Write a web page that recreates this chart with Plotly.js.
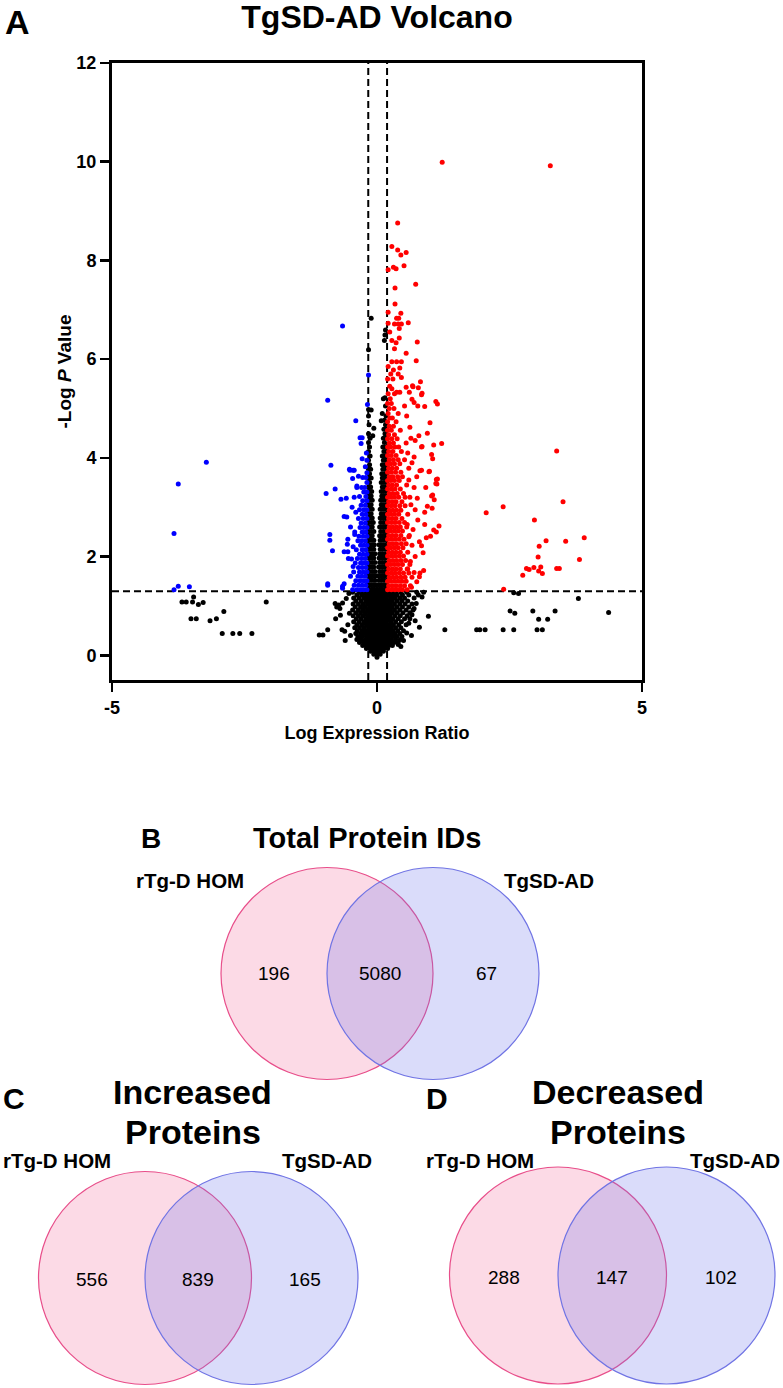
<!DOCTYPE html>
<html>
<head>
<meta charset="utf-8">
<script src="https://cdn.plot.ly/plotly-3.0.1.min.js"></script>
<style>
  html, body { margin: 0; padding: 0; background: #ffffff; }
  #chart { width: 783px; height: 1388px; }
</style>
</head>
<body>
<div id="chart"></div>
<script>
// ---------- Volcano data: log expression ratio (x) vs -log P (y) ----------

// significance cut-offs
const ratioCutoffs = [-0.165, 0.19];
const pCutoff = 1.3;

// axis ticks
const xTickVals = [-5, 0, 5];
const xTickText = ['-5', '0', '5'];
const yTickVals = [0, 2, 4, 6, 8, 10, 12];

// increased proteins, dense band next to the cut-off: [y, [x values]]
const upRows = [
  [1.33, [0.20, 0.27, 0.34, 0.41, 0.48, 0.57]],
  [1.41, [0.22, 0.29, 0.36, 0.44, 0.52, 0.63]],
  [1.50, [0.20, 0.26, 0.33, 0.40, 0.47, 0.55]],
  [1.58, [0.23, 0.30, 0.37, 0.45, 0.53, 0.66]],
  [1.67, [0.20, 0.27, 0.34, 0.42, 0.50, 0.60]],
  [1.75, [0.22, 0.29, 0.36, 0.44, 0.57]],
  [1.84, [0.20, 0.26, 0.33, 0.40, 0.48, 0.62]],
  [1.92, [0.23, 0.30, 0.37, 0.45, 0.54]],
  [2.01, [0.20, 0.27, 0.34, 0.42, 0.50]],
  [2.09, [0.22, 0.29, 0.36, 0.44, 0.58]],
  [2.18, [0.20, 0.26, 0.33, 0.40, 0.49]],
  [2.26, [0.23, 0.30, 0.37, 0.46, 0.55]],
  [2.35, [0.20, 0.27, 0.34, 0.42, 0.51]],
  [2.43, [0.22, 0.29, 0.36, 0.45, 0.61]],
  [2.52, [0.20, 0.26, 0.33, 0.40, 0.48]],
  [2.60, [0.23, 0.30, 0.37, 0.44, 0.56]],
  [2.69, [0.20, 0.27, 0.34, 0.42, 0.52]],
  [2.77, [0.22, 0.29, 0.36, 0.47]],
  [2.86, [0.20, 0.26, 0.33, 0.41, 0.58]],
  [2.94, [0.23, 0.30, 0.37, 0.45]],
  [3.03, [0.20, 0.27, 0.34, 0.43, 0.53]],
  [3.11, [0.22, 0.29, 0.36, 0.47]],
  [3.20, [0.20, 0.26, 0.33, 0.41, 0.62]],
  [3.28, [0.23, 0.30, 0.38, 0.50]],
  [3.37, [0.20, 0.27, 0.34, 0.44]],
  [3.45, [0.22, 0.29, 0.37, 0.56]],
  [3.54, [0.20, 0.26, 0.33, 0.42]],
  [3.62, [0.23, 0.30, 0.39, 0.48]],
  [3.71, [0.20, 0.27, 0.35, 0.45]],
  [3.79, [0.22, 0.29, 0.37, 0.60]],
  [3.88, [0.20, 0.26, 0.33, 0.43]],
  [3.96, [0.23, 0.31, 0.40, 0.52]],
  [4.05, [0.20, 0.27, 0.36]],
  [4.13, [0.22, 0.30, 0.46]],
  [4.22, [0.20, 0.26, 0.34, 0.41]],
  [4.30, [0.23, 0.31, 0.55]],
  [4.39, [0.20, 0.28, 0.38]],
  [4.47, [0.22, 0.33]],
  [4.56, [0.20, 0.27, 0.44]],
  [4.64, [0.23, 0.31]],
  [4.73, [0.20, 0.36]],
  [4.81, [0.24, 0.29]],
  [4.90, [0.21, 0.40]],
  [5.00, [0.23, 0.32]],
  [5.10, [0.20, 0.27]],
  [5.20, [0.25]],
  [5.30, [0.21, 0.33]],
  [5.45, [0.24]],
  [5.60, [0.20, 0.30]]
];

// increased proteins, scattered points: [x, y]
const upPoints = [
  [1.23, 9.99], [3.27, 9.92], [0.39, 8.76], [0.28, 8.28], [0.39, 8.21], [0.45, 8.11],
  [0.55, 8.16], [0.31, 7.86], [0.36, 7.83], [0.51, 7.89], [0.21, 7.81], [0.73, 7.52],
  [0.34, 7.44], [0.34, 7.12], [0.21, 6.95], [0.45, 6.93], [0.37, 6.83], [0.41, 6.83],
  [0.21, 6.73], [0.33, 6.71], [0.40, 6.71], [0.46, 6.71], [0.59, 6.74], [0.24, 6.55],
  [0.42, 6.62], [0.36, 6.33], [0.42, 6.43], [0.28, 6.38], [0.76, 6.35], [0.33, 6.21],
  [0.55, 6.12], [0.74, 5.97], [0.28, 5.95], [0.37, 5.95], [0.46, 5.95], [0.21, 5.85],
  [0.31, 5.78], [0.43, 5.82], [0.26, 5.70], [0.40, 5.70], [0.46, 5.63], [0.67, 5.46],
  [0.82, 5.54], [0.78, 5.42], [0.85, 5.31], [0.37, 5.33], [0.43, 5.33], [0.28, 5.40],
  [0.55, 5.43], [0.61, 5.33], [1.11, 5.14], [1.14, 5.09], [0.77, 5.05], [0.66, 5.19],
  [0.70, 5.12], [0.90, 5.04], [0.84, 5.28], [0.68, 5.44], [1.00, 4.71], [1.22, 4.29],
  [1.07, 4.26], [0.85, 4.23], [0.79, 4.45], [0.72, 4.35], [1.03, 4.07], [1.05, 3.98],
  [0.99, 3.73], [1.14, 3.57], [1.11, 3.48], [0.81, 3.74], [1.03, 3.23], [0.84, 4.22],
  [0.70, 4.02], [0.84, 3.75], [0.98, 3.72], [1.12, 3.56], [1.13, 3.47], [1.05, 3.25],
  [1.08, 3.15], [1.04, 2.98], [0.95, 3.02], [0.90, 2.90], [0.76, 3.18], [1.17, 2.62],
  [1.07, 2.54], [1.12, 2.50], [1.01, 2.41], [0.93, 2.38], [0.90, 2.65], [0.77, 2.74],
  [0.80, 2.30], [0.84, 2.22], [0.66, 2.23], [0.87, 2.08], [0.88, 1.72], [0.81, 1.67],
  [0.80, 1.59], [0.70, 1.68], [0.75, 1.49], [0.65, 1.38], [0.62, 4.62], [0.58, 4.10],
  [0.66, 3.90], [0.60, 3.55], [0.70, 3.40], [0.64, 3.05], [0.72, 2.95], [0.68, 2.55],
  [0.60, 2.40], [0.72, 2.00], [0.63, 1.90], [0.58, 1.75], [0.56, 4.85], [0.52, 5.05],
  [0.64, 4.40], [0.53, 3.20], [0.57, 2.65], [0.75, 3.62], [0.92, 3.40], [0.95, 4.50],
  [2.06, 2.89], [2.38, 3.01], [2.39, 1.34], [2.75, 1.62], [2.82, 1.76], [2.87, 1.74],
  [2.96, 1.78], [3.09, 1.79], [3.05, 1.71], [3.12, 1.66], [3.19, 2.32], [2.97, 2.74],
  [3.06, 2.21], [3.04, 1.99], [3.39, 4.14], [3.51, 3.11], [3.56, 2.31], [3.39, 1.76],
  [3.44, 1.76], [3.82, 1.94], [3.91, 2.38]
];

// decreased proteins, dense band next to the cut-off: [y, [x values]]
const downRows = [
  [1.33, [-0.19, -0.25, -0.31, -0.38, -0.46]],
  [1.42, [-0.21, -0.28, -0.35, -0.43]],
  [1.51, [-0.19, -0.25, -0.32, -0.40]],
  [1.60, [-0.22, -0.29, -0.36]],
  [1.69, [-0.19, -0.26, -0.33, -0.44]],
  [1.78, [-0.21, -0.28, -0.35]],
  [1.87, [-0.19, -0.25, -0.31, -0.41]],
  [1.96, [-0.22, -0.29, -0.37]],
  [2.05, [-0.19, -0.26, -0.33]],
  [2.14, [-0.21, -0.28, -0.39]],
  [2.23, [-0.19, -0.25, -0.31]],
  [2.32, [-0.22, -0.29, -0.36]],
  [2.41, [-0.19, -0.26, -0.34]],
  [2.50, [-0.21, -0.28, -0.42]],
  [2.59, [-0.19, -0.25, -0.32]],
  [2.68, [-0.22, -0.30]],
  [2.77, [-0.19, -0.26, -0.35]],
  [2.86, [-0.21, -0.28]],
  [2.95, [-0.19, -0.25, -0.33]],
  [3.04, [-0.22, -0.30]],
  [3.13, [-0.19, -0.27]],
  [3.22, [-0.21, -0.33]],
  [3.31, [-0.19, -0.25]],
  [3.40, [-0.23, -0.29]],
  [3.50, [-0.19]],
  [3.60, [-0.21, -0.27]],
  [3.70, [-0.19]],
  [3.82, [-0.22]],
  [3.95, [-0.19]],
  [4.10, [-0.20]]
];

// decreased proteins, scattered points: [x, y]
const downPoints = [
  [-3.22, 3.91], [-3.75, 3.47], [-3.83, 2.47], [-3.83, 1.33], [-3.75, 1.40], [-3.54, 1.39],
  [-0.65, 6.67], [-0.93, 5.17], [-0.16, 5.68], [-0.18, 5.08], [-0.40, 4.75], [-0.32, 4.41],
  [-0.28, 4.41], [-0.30, 4.29], [-0.87, 3.85], [-0.51, 3.75], [-0.45, 3.75], [-0.46, 3.58],
  [-0.35, 3.63], [-0.96, 3.28], [-0.79, 3.37], [-0.38, 3.40], [-0.28, 3.98], [-0.68, 3.16],
  [-0.58, 3.18], [-0.52, 3.77], [-0.43, 3.75], [-0.62, 2.81], [-0.57, 2.80], [-0.55, 2.35],
  [-0.56, 2.25], [-0.62, 2.10], [-0.55, 2.10], [-0.54, 1.96], [-0.48, 1.95], [-0.62, 1.45],
  [-0.89, 2.45], [-0.89, 2.33], [-0.84, 2.12], [-0.93, 1.45], [-0.93, 1.42], [-0.65, 1.40],
  [-0.65, 1.36], [-0.38, 3.43], [-0.43, 3.20], [-0.47, 3.00], [-0.50, 2.60], [-0.45, 2.20],
  [-0.50, 1.60], [-0.45, 1.80], [-0.40, 2.90], [-0.42, 2.45]
];

// unchanged proteins, dense core below the P cut-off: [y, [x values]]
const nsCoreRows = [
  [-0.04, [0.00]],
  [0.02, [-0.06, 0.00, 0.06]],
  [0.08, [-0.12, -0.06, 0.00, 0.06, 0.12]],
  [0.14, [-0.20, -0.13, -0.07, 0.00, 0.07, 0.13, 0.20]],
  [0.20, [-0.27, -0.20, -0.13, -0.06, 0.01, 0.08, 0.15, 0.22, 0.29]],
  [0.26, [-0.33, -0.25, -0.18, -0.11, -0.04, 0.03, 0.10, 0.17, 0.24, 0.32, 0.40]],
  [0.32, [-0.38, -0.30, -0.22, -0.15, -0.08, -0.01, 0.06, 0.13, 0.20, 0.27, 0.35, 0.44]],
  [0.38, [-0.36, -0.28, -0.20, -0.13, -0.06, 0.01, 0.08, 0.15, 0.22, 0.30, 0.38, 0.47]],
  [0.44, [-0.40, -0.31, -0.23, -0.16, -0.09, -0.02, 0.05, 0.12, 0.19, 0.26, 0.34, 0.43]],
  [0.50, [-0.37, -0.28, -0.20, -0.13, -0.06, 0.01, 0.08, 0.15, 0.22, 0.30, 0.39, 0.50]],
  [0.56, [-0.42, -0.33, -0.24, -0.16, -0.09, -0.02, 0.05, 0.12, 0.19, 0.27, 0.35, 0.45]],
  [0.62, [-0.38, -0.29, -0.20, -0.13, -0.06, 0.01, 0.08, 0.15, 0.23, 0.31, 0.41, 0.55]],
  [0.68, [-0.44, -0.34, -0.25, -0.17, -0.10, -0.03, 0.04, 0.11, 0.18, 0.26, 0.35, 0.46]],
  [0.74, [-0.39, -0.30, -0.21, -0.14, -0.07, 0.00, 0.07, 0.14, 0.22, 0.30, 0.40, 0.52, 0.62]],
  [0.80, [-0.45, -0.35, -0.26, -0.18, -0.11, -0.04, 0.03, 0.10, 0.17, 0.25, 0.34, 0.44, 0.57]],
  [0.86, [-0.40, -0.31, -0.22, -0.14, -0.07, 0.00, 0.07, 0.14, 0.21, 0.29, 0.38, 0.49]],
  [0.92, [-0.46, -0.35, -0.26, -0.18, -0.11, -0.04, 0.03, 0.10, 0.17, 0.25, 0.33, 0.43, 0.55, 0.68]],
  [0.98, [-0.41, -0.31, -0.22, -0.14, -0.07, 0.00, 0.07, 0.14, 0.21, 0.29, 0.38, 0.48, 0.60]],
  [1.04, [-0.45, -0.35, -0.26, -0.18, -0.11, -0.04, 0.03, 0.10, 0.17, 0.25, 0.33, 0.43, 0.53, 0.66]],
  [1.10, [-0.40, -0.30, -0.21, -0.14, -0.07, 0.00, 0.07, 0.14, 0.21, 0.29, 0.38, 0.47, 0.58]],
  [1.16, [-0.44, -0.34, -0.25, -0.17, -0.10, -0.03, 0.04, 0.11, 0.18, 0.26, 0.34, 0.43, 0.52, 0.70]],
  [1.22, [-0.38, -0.29, -0.20, -0.13, -0.06, 0.01, 0.08, 0.15, 0.22, 0.30, 0.38, 0.48, 0.60]],
  [1.28, [-0.46, -0.33, -0.24, -0.16, -0.09, -0.02, 0.05, 0.12, 0.19, 0.27, 0.35, 0.45, 0.56, 0.75]]
];

// unchanged proteins between the ratio cut-offs: [y, [x values]]
const nsStripRows = [
  [1.34, [-0.15, -0.10, -0.05, 0.00, 0.05, 0.10, 0.15]],
  [1.43, [-0.16, -0.11, -0.06, -0.02, 0.03, 0.08, 0.13, 0.18]],
  [1.52, [-0.14, -0.09, -0.04, 0.04, 0.09, 0.14]],
  [1.61, [-0.16, -0.11, -0.06, -0.02, 0.03, 0.08, 0.13, 0.18]],
  [1.70, [-0.14, -0.09, -0.04, 0.05, 0.10, 0.15]],
  [1.79, [-0.16, -0.11, -0.06, 0.03, 0.08, 0.13, 0.18]],
  [1.88, [-0.14, -0.09, -0.04, 0.05, 0.10, 0.15]],
  [1.97, [-0.16, -0.11, -0.06, 0.04, 0.08, 0.13, 0.18]],
  [2.06, [-0.14, -0.09, -0.04, 0.05, 0.10, 0.15]],
  [2.15, [-0.16, -0.11, -0.06, 0.06, 0.11, 0.17]],
  [2.24, [-0.14, -0.09, -0.05, 0.04, 0.08, 0.13, 0.18]],
  [2.33, [-0.16, -0.11, -0.06, 0.06, 0.11, 0.16]],
  [2.42, [-0.14, -0.09, 0.05, 0.09, 0.14, 0.18]],
  [2.51, [-0.16, -0.11, -0.06, 0.07, 0.12, 0.17]],
  [2.60, [-0.14, -0.09, 0.05, 0.10, 0.15]],
  [2.69, [-0.16, -0.11, -0.07, 0.07, 0.12, 0.17]],
  [2.78, [-0.14, -0.09, 0.06, 0.10, 0.15]],
  [2.87, [-0.16, -0.11, 0.08, 0.13, 0.18]],
  [2.96, [-0.14, -0.09, 0.06, 0.11, 0.16]],
  [3.05, [-0.16, -0.11, 0.08, 0.13, 0.18]],
  [3.14, [-0.14, -0.09, 0.07, 0.11, 0.16]],
  [3.23, [-0.16, -0.11, 0.09, 0.14, 0.18]],
  [3.32, [-0.14, -0.10, 0.08, 0.12, 0.17]],
  [3.41, [-0.16, -0.12, 0.10, 0.15]],
  [3.50, [-0.14, 0.08, 0.13, 0.18]],
  [3.59, [-0.16, -0.11, 0.10, 0.15]],
  [3.68, [-0.14, 0.09, 0.14, 0.18]],
  [3.77, [-0.16, -0.12, 0.11, 0.16]],
  [3.86, [-0.14, 0.10, 0.15]],
  [3.95, [-0.16, 0.12, 0.17]],
  [4.04, [-0.13, 0.10, 0.15]],
  [4.13, [-0.16, 0.13, 0.18]],
  [4.22, [-0.14, 0.11, 0.16]],
  [4.31, [-0.16, 0.14]],
  [4.40, [-0.13, 0.12, 0.17]],
  [4.49, [-0.16, 0.15]],
  [4.58, [0.13, 0.18]],
  [4.67, [-0.15, 0.16]],
  [4.76, [0.14]],
  [4.85, [-0.16, 0.17]]
];

// unchanged proteins, scattered points: [x, y]
const nsPoints = [
  [-3.68, 1.08], [-3.60, 1.08], [-3.48, 1.08], [-3.46, 1.18], [-3.37, 1.03], [-3.28, 1.07],
  [-3.51, 0.74], [-3.41, 0.74], [-3.15, 0.70], [-3.03, 0.74], [-2.89, 0.89], [-2.92, 0.44],
  [-2.72, 0.44], [-2.59, 0.44], [-2.36, 0.44], [-2.09, 1.08],
  [-1.09, 0.41], [-1.02, 0.41], [-0.93, 0.52], [-0.79, 1.05], [-0.72, 1.02], [-0.65, 1.06],
  [-0.76, 0.98], [-0.70, 0.95], [-0.78, 0.74], [-0.69, 0.81], [-0.66, 0.52], [-0.61, 0.49],
  [-0.55, 0.62], [-0.52, 0.85], [-0.58, 1.15], [-0.53, 1.25], [-0.60, 0.30], [-0.50, 0.40],
  [0.88, 1.28], [0.85, 1.18], [0.78, 1.22], [0.74, 1.05], [0.70, 0.95], [0.66, 0.82],
  [0.62, 0.86], [0.72, 0.70], [0.60, 0.65], [0.56, 0.45], [0.50, 0.30], [0.97, 0.79],
  [0.80, 0.57], [1.28, 0.52], [0.65, 0.40], [0.45, 0.18], [0.40, 0.22],
  [2.58, 1.27], [2.67, 1.25], [2.51, 0.90], [2.60, 0.85], [2.94, 0.90], [3.05, 0.73],
  [3.22, 0.73], [3.36, 0.90], [3.80, 1.15], [4.37, 0.87], [1.88, 0.52], [1.94, 0.52],
  [2.04, 0.52], [2.38, 0.52], [2.58, 0.52], [3.02, 0.52], [3.12, 0.52],
  [-0.11, 6.83], [-0.16, 6.19], [0.15, 6.49], [0.16, 6.59], [0.14, 6.38], [0.12, 5.20],
  [0.15, 5.22], [-0.11, 4.97], [-0.16, 4.98], [-0.06, 4.60], [0.16, 5.05], [0.10, 4.90],
  [-0.08, 4.45], [0.08, 4.75]
];

// ---------- Venn data ----------
const vennSetNames = ['rTg-D HOM', 'TgSD-AD'];
const vennTitles = [['Total Protein IDs'], ['Increased', 'Proteins'], ['Decreased', 'Proteins']];
// [only rTg-D HOM, shared, only TgSD-AD]
const vennCounts = [[196, 5080, 67], [556, 839, 165], [288, 147, 102]];
const panelLetters = ['A', 'B', 'C', 'D'];

// ---------- helpers ----------
const W = 783, H = 1388;
const FONT = 'Liberation Sans, Arial, Helvetica, sans-serif';
const px = x => x / W;           // pixel column -> paper x
const py = y => 1 - y / H;       // pixel row -> paper y

function collect(rows, points) {
  const xs = [], ys = [];
  rows.forEach(([y, row]) => row.forEach(x => { xs.push(x); ys.push(y); }));
  points.forEach(([x, y]) => { xs.push(x); ys.push(y); });
  return { x: xs, y: ys };
}

const ns = collect(nsCoreRows.concat(nsStripRows), nsPoints);
const up = collect(upRows, upPoints);
const down = collect(downRows, downPoints);

function markerTrace(d, color) {
  return {
    type: 'scatter', mode: 'markers', x: d.x, y: d.y,
    marker: { color: color, size: 5, line: { width: 0 } },
    hoverinfo: 'skip', showlegend: false, cliponaxis: false
  };
}

const traces = [
  markerTrace(ns, '#000000'),
  markerTrace(down, '#0000ff'),
  markerTrace(up, '#ff0000')
];

// ---------- shapes ----------
const shapes = [];
ratioCutoffs.forEach(c => shapes.push({
  type: 'line', xref: 'x', yref: 'y', x0: c, x1: c, y0: -0.5, y1: 12,
  line: { color: '#000', width: 2, dash: '7px,4px' }, layer: 'below'
}));
shapes.push({
  type: 'line', xref: 'x', yref: 'y', x0: -5, x1: 5, y0: pCutoff, y1: pCutoff,
  line: { color: '#000', width: 2, dash: '7px,4px' }, layer: 'below'
});

// Venn panel placement (pixel geometry)
const vennPanels = [
  { cL: [327, 973.5], cR: [433, 973.5], r: 106, titleX: 367, titleY: [838], titleSize: 29,
    letter: [140, 838], setL: [245, 880, 'right'], setR: [503, 880, 'left'], countY: 973 },
  { cL: [145, 1278], cR: [251.5, 1278], r: 106.5, titleX: 192.5, titleY: [1092, 1132], titleSize: 34,
    letter: [2, 1098], setL: [2, 1160, 'left'], setR: [281, 1160, 'left'], countY: 1279 },
  { cL: [558, 1275.5], cR: [666.5, 1275.5], r: 108.5, titleX: 617.5, titleY: [1092, 1132], titleSize: 34,
    letter: [425, 1098], setL: [425, 1160, 'left'], setR: [781, 1160, 'right'], countY: 1277 }
];

const annotations = [];
function addText(text, x, y, size, weight, xanchor) {
  annotations.push({
    text: text, xref: 'paper', yref: 'paper', x: px(x), y: py(y),
    xanchor: xanchor || 'center', yanchor: 'middle', showarrow: false, borderpad: 0,
    font: { family: FONT, size: size, color: '#000', weight: weight }
  });
}

// panel letter A
addText(panelLetters[0], 4, 22, 34, 'bold', 'left');

vennPanels.forEach((p, i) => {
  const circle = (c, fill, edge) => ({
    type: 'circle', xref: 'paper', yref: 'paper',
    x0: px(c[0] - p.r), x1: px(c[0] + p.r), y0: py(c[1] + p.r), y1: py(c[1] - p.r),
    fillcolor: fill, line: { color: edge, width: 1.2 }, layer: 'above'
  });
  shapes.push(circle(p.cL, 'rgba(243,107,155,0.25)', 'rgb(232,78,138)'));
  shapes.push(circle(p.cR, 'rgba(107,115,235,0.25)', 'rgb(112,116,228)'));

  vennTitles[i].forEach((line, k) => addText(line, p.titleX, p.titleY[k], p.titleSize, 'bold'));
  addText(panelLetters[i + 1], p.letter[0], p.letter[1], i === 0 ? 28 : 30, 'bold', 'left');
  addText(vennSetNames[0], p.setL[0], p.setL[1], 20.5, 'bold', p.setL[2]);
  addText(vennSetNames[1], p.setR[0], p.setR[1], 20.5, 'bold', p.setR[2]);

  // count positions: left-only, overlap, right-only
  const d = p.cR[0] - p.cL[0];
  const xs = [p.cL[0] - d / 2, (p.cL[0] + p.cR[0]) / 2, p.cR[0] + d / 2];
  vennCounts[i].forEach((n, k) => addText(String(n), xs[k], p.countY, 19, 'normal'));
});

const axisCommon = {
  showline: true, linewidth: 3, linecolor: '#000', mirror: true,
  ticks: 'outside', ticklen: 9, tickwidth: 2.5, tickcolor: '#000',
  showgrid: false, zeroline: false, fixedrange: true,
  tickfont: { family: FONT, size: 18, color: '#000', weight: 'bold' }
};

const layout = {
  width: W, height: H, autosize: false,
  margin: { l: 0, r: 0, t: 0, b: 0, pad: 0 },
  paper_bgcolor: '#ffffff', plot_bgcolor: '#ffffff',
  font: { family: FONT, color: '#000' },
  title: {
    text: 'TgSD-AD Volcano', x: px(377), xanchor: 'center',
    y: py(17), yanchor: 'middle', xref: 'paper', yref: 'container',
    font: { family: FONT, size: 32, color: '#000', weight: 'bold' }
  },
  xaxis: Object.assign({}, axisCommon, {
    domain: [px(112), px(642)], range: [-5, 5],
    tickmode: 'array', tickvals: xTickVals, ticktext: xTickText,
    title: { text: 'Log Expression Ratio', standoff: 10,
             font: { family: FONT, size: 18, color: '#000', weight: 'bold' } }
  }),
  yaxis: Object.assign({}, axisCommon, {
    domain: [py(680), py(63)], range: [-0.5, 12],
    tickmode: 'array', tickvals: yTickVals,
    title: { text: '-Log <i>P</i> Value', standoff: 0,
             font: { family: FONT, size: 19, color: '#000', weight: 'bold' } }
  }),
  shapes: shapes,
  annotations: annotations
};

Plotly.newPlot('chart', traces, layout, { displayModeBar: false, staticPlot: true });
</script>
</body>
</html>
